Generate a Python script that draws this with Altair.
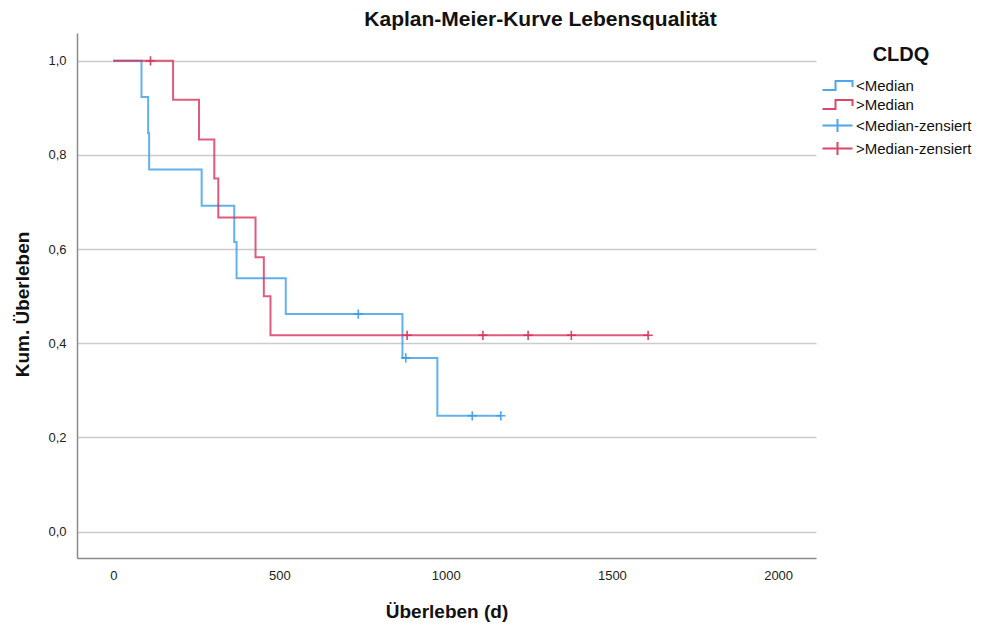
import altair as alt
import pandas as pd

# ---- data ----
groups = ["<Median", ">Median", "<Median-zensiert", ">Median-zensiert"]

lo_time = [0, 85, 105, 108, 266, 364, 371, 519, 870, 975, 1166]
lo_surv = [1.0, 0.923, 0.846, 0.769, 0.692, 0.615, 0.538, 0.462, 0.369, 0.246, 0.246]
lo_cens_time = [737, 880, 1080, 1166]
lo_cens_surv = [0.462, 0.369, 0.246, 0.246]

hi_time = [0, 180, 258, 304, 316, 428, 453, 473, 1609]
hi_surv = [1.0, 0.917, 0.833, 0.750, 0.667, 0.583, 0.500, 0.417, 0.417]
hi_cens_time = [112, 884, 1112, 1248, 1378, 1609]
hi_cens_surv = [1.0, 0.417, 0.417, 0.417, 0.417, 0.417]

x_ticks = [0, 500, 1000, 1500, 2000]
y_ticks = [0.0, 0.2, 0.4, 0.6, 0.8, 1.0]

BLUE = "#3a9ee8"
RED = "#d8325c"
FONT = "Liberation Sans"

lines = pd.concat([
    pd.DataFrame({"t": lo_time, "s": lo_surv, "grp": groups[0]}),
    pd.DataFrame({"t": hi_time, "s": hi_surv, "grp": groups[1]}),
])
cens = pd.concat([
    pd.DataFrame({"t": lo_cens_time, "s": lo_cens_surv, "grp": groups[2]}),
    pd.DataFrame({"t": hi_cens_time, "s": hi_cens_surv, "grp": groups[3]}),
])
legend_df = pd.DataFrame({"grp": groups})

STEP = "M -3 0.9 L -0.4 0.9 L -0.4 -0.9 L 3 -0.9 L 3 0.3"
CROSS_LEG = "M -3 0 L 3 0 M 0 -1.3 L 0 1.3"
CROSS = "M -1 0 L 1 0 M 0 -1 L 0 1"

color_scale = alt.Scale(domain=groups, range=[BLUE, RED, BLUE, RED])
shape_scale = alt.Scale(domain=groups, range=[STEP, STEP, CROSS_LEG, CROSS_LEG])

W, H = 739, 525

x_enc = alt.X(
    "t:Q",
    scale=alt.Scale(domain=[-109, 2114], nice=False, zero=False),
    axis=alt.Axis(
        values=x_ticks, format="d", grid=False, ticks=False,
        title="Überleben (d)", titleX=W / 2, titleY=53,
        titleAlign="center", titleBaseline="middle",
        labelPadding=11,
    ),
)
y_enc = alt.Y(
    "s:Q",
    scale=alt.Scale(domain=[-0.056, 1.059], nice=False, zero=False),
    axis=alt.Axis(
        values=y_ticks, grid=True, ticks=False,
        labelExpr="replace(format(datum.value, '.1f'), '.', ',')",
        title="Kum. Überleben", titleX=-55, titleY=271,
        titleAngle=-90, titleAlign="center", titleBaseline="middle",
        labelPadding=11,
    ),
)

legend = alt.Legend(
    title="CLDQ", orient="none", legendX=753, legendY=12,
    titleAnchor="middle", titleFontSize=20, titleFontWeight="bold",
    titleFont=FONT, titleColor="#111", titlePadding=13,
    labelFont=FONT, labelFontSize=15, labelColor="#111", labelOffset=11,
    symbolSize=100, symbolStrokeWidth=2, symbolFillColor="transparent",
    rowPadding=2, padding=0,
)

line_layer = alt.Chart(lines).mark_line(
    interpolate="step-after", strokeWidth=2, strokeOpacity=0.8
).encode(
    x=x_enc, y=y_enc,
    color=alt.Color("grp:N", scale=color_scale, legend=legend),
)

cens_layer = alt.Chart(cens).mark_point(
    shape=CROSS, size=85, filled=False, strokeWidth=1.6, opacity=0.9
).encode(
    x=x_enc, y=y_enc,
    color=alt.Color("grp:N", scale=color_scale, legend=legend),
)

legend_layer = alt.Chart(legend_df).transform_filter("false").mark_point(
    filled=False
).encode(
    color=alt.Color("grp:N", scale=color_scale, legend=legend),
    shape=alt.Shape("grp:N", scale=shape_scale, legend=legend),
)

chart = alt.layer(line_layer, cens_layer, legend_layer).properties(
    width=W, height=H,
    title=alt.TitleParams(
        "Kaplan-Meier-Kurve Lebensqualität", anchor="middle", dx=94,
        fontSize=21, fontWeight="bold", font=FONT, color="#111", offset=3,
    ),
    autosize=alt.AutoSizeParams(type="none"),
    padding={"left": 77, "top": 33, "right": 171, "bottom": 68},
).configure(background="white").configure_view(stroke=None).configure_axis(
    labelFont=FONT, labelFontSize=13, labelColor="#222",
    titleFont=FONT, titleFontSize=19, titleFontWeight="bold", titleColor="#111",
    domainColor="#8a8a8a", domainWidth=1.5,
    gridColor="#cccccc", gridWidth=1.5,
)

chart.save("out.html", embed_options={"renderer": "svg", "actions": False})
